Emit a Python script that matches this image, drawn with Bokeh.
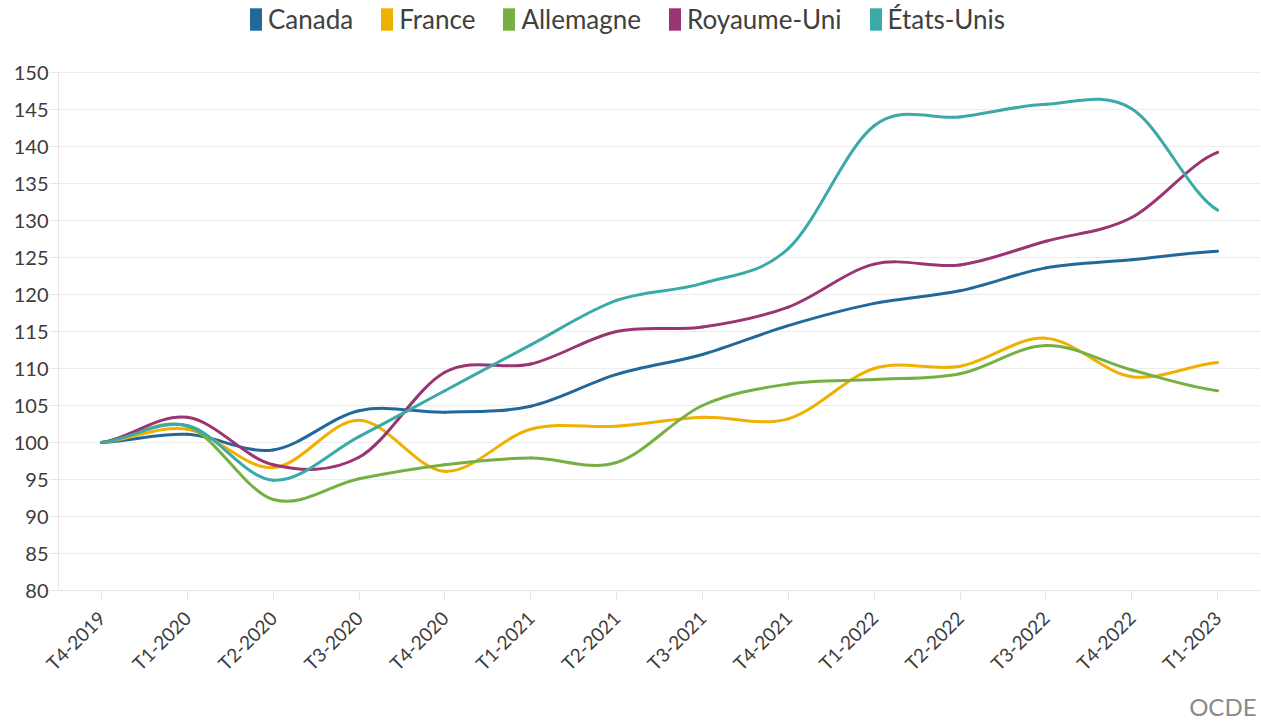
import math
import numpy as np
from bokeh.plotting import figure
from bokeh.models import (ColumnDataSource, FactorRange, Range1d, FixedTicker,
                          Legend, LegendItem, Title)
from bokeh.embed import file_html
from bokeh.resources import INLINE

quarters = ["T4-2019", "T1-2020", "T2-2020", "T3-2020", "T4-2020", "T1-2021", "T2-2021",
            "T3-2021", "T4-2021", "T1-2022", "T2-2022", "T3-2022", "T4-2022", "T1-2023"]

canada = [100, 101.1, 99.0, 104.3, 104.1, 104.9, 109.2, 111.9, 115.8, 118.8, 120.5, 123.6, 124.7, 125.85]
france = [100, 101.8, 96.6, 103.0, 96.1, 101.8, 102.2, 103.4, 103.2, 110.0, 110.3, 114.1, 108.9, 110.8]
allemagne = [100, 102.2, 92.3, 95.1, 97.0, 97.9, 97.3, 105.0, 107.9, 108.5, 109.3, 113.1, 109.8, 107.0]
royaume_uni = [100, 103.4, 97.0, 98.0, 109.5, 110.6, 115.0, 115.6, 118.3, 124.1, 124.0, 127.2, 130.4, 139.2]
etats_unis = [100, 102.3, 94.9, 100.8, 107.0, 113.2, 119.2, 121.5, 126.2, 142.8, 144.0, 145.7, 145.1, 131.4]

series_names = ["Canada", "France", "Allemagne", "Royaume-Uni", "États-Unis"]
series_values = [canada, france, allemagne, royaume_uni, etats_unis]
series_colors = ["#22699b", "#f0b000", "#76b043", "#983572", "#3aa9a8"]

y_ticks = list(range(80, 151, 5))

FONT = "Lato"
TEXT = "#3c3c3c"
LIGHT = "#e6e6e6"

# frame spans the full canvas height above the x axis; the value axis 80..150
# occupies its lower 518 px, leaving the top strip for the legend
p = figure(width=1261, height=727,
           x_range=FactorRange(*quarters), y_range=Range1d(80, 80 + 590 / 7.4),
           output_backend="svg", toolbar_location=None,
           min_border_left=58, min_border_right=1,
           min_border_top=0, min_border_bottom=137)
p.outline_line_color = None
p.background_fill_color = "white"
p.border_fill_color = "white"


def spline_segments(vals):
    """Catmull-Rom segments expressed as cubic Bezier control points (synthetic x coords)."""
    v = np.asarray(vals, dtype=float)
    n = len(v)
    x = np.arange(n) + 0.5
    ext = np.concatenate([[v[0]], v, [v[-1]]])
    m = (ext[2:] - ext[:-2]) / 2.0
    return dict(
        x0=x[:-1], y0=v[:-1], x1=x[1:], y1=v[1:],
        cx0=x[:-1] + 1 / 3, cy0=v[:-1] + m[:-1] / 3,
        cx1=x[1:] - 1 / 3, cy1=v[1:] - m[1:] / 3,
    )


items = []
for name, vals, col in zip(series_names, series_values, series_colors):
    src = ColumnDataSource(spline_segments(vals))
    p.bezier(x0="x0", y0="y0", x1="x1", y1="y1", cx0="cx0", cy0="cy0",
             cx1="cx1", cy1="cy1", source=src, line_color=col, line_width=3,
             line_cap="round")
    # zero-size rect: only used for its legend swatch
    swatch = p.rect(x=[quarters[0]], y=[y_ticks[0]], width=0, height=0,
                    fill_color=col, line_color=None)
    items.append(LegendItem(label=name, renderers=[swatch]))

legend = Legend(items=items, orientation="horizontal", location=(190, 555),
                glyph_width=15, glyph_height=28, label_standoff=5, spacing=26,
                padding=0, margin=0, border_line_color=None, background_fill_alpha=0,
                label_text_font=FONT, label_text_font_size="26px",
                label_text_color="#404040", label_height=28)
p.add_layout(legend)

# axes
p.xgrid.grid_line_color = None
p.ygrid.grid_line_color = "#ededed"
p.ygrid.grid_line_width = 1

p.yaxis.ticker = FixedTicker(ticks=y_ticks)
p.yaxis.bounds = (y_ticks[0], y_ticks[-1])
p.yaxis.axis_line_color = LIGHT
p.yaxis.major_tick_line_color = LIGHT
p.yaxis.major_tick_out = 9
p.yaxis.major_tick_in = 0
p.yaxis.minor_tick_line_color = None
p.yaxis.major_label_standoff = 1
p.yaxis.major_label_text_font = FONT
p.yaxis.major_label_text_font_size = "20px"
p.yaxis.major_label_text_color = TEXT

p.xaxis.axis_line_color = LIGHT
p.xaxis.major_tick_line_color = LIGHT
p.xaxis.major_tick_out = 10
p.xaxis.major_tick_in = 0
p.xaxis.major_label_orientation = math.pi / 4
p.xaxis.major_label_standoff = 14
p.xaxis.major_label_text_font = FONT
p.xaxis.major_label_text_font_size = "19px"
p.xaxis.major_label_text_color = TEXT

p.add_layout(Title(text="OCDE", align="right", offset=4, standoff=9,
                   text_font=FONT, text_font_size="24px", text_font_style="normal",
                   text_color="#8a8a8a"), "below")

open("out.html", "w").write(file_html(p, INLINE))
